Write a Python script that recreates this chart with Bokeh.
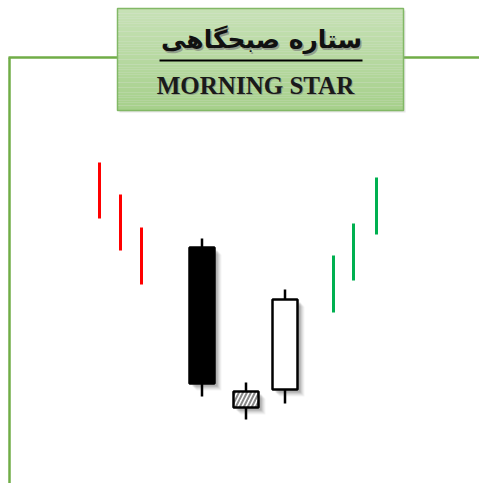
from bokeh.plotting import figure
from bokeh.models import Range1d, ColumnDataSource
from bokeh.embed import file_html
from bokeh.resources import INLINE
from bokeh.core.properties import value

# --- data (price units; x = time position) ---
down_x = [91, 112, 133]
down_high = [321, 289, 256]
down_low = [265, 233, 199]

up_x = [325, 345, 368]
up_high = [228, 260, 306]
up_low = [171, 203, 249]

candle_x = [193.5, 237.5, 276.5]
candle_open = [236, 92, 94]
candle_close = [100, 76, 184]
candle_high = [245, 101, 194]
candle_low = [87, 64, 80]
candle_kind = ["bear", "star", "bull"]

title_fa = "ستاره صبحگاهی"
title_en = "MORNING STAR"

W, H = 479, 483
p = figure(width=W, height=H, output_backend="svg", toolbar_location=None,
           x_range=Range1d(-8, W - 8), y_range=Range1d(0, H), min_border=0)
p.axis.visible = False
p.grid.visible = False
p.outline_line_color = None
p.background_fill_color = "white"
p.border_fill_color = "white"

green = "#70AD47"
# frame lines
p.segment(x0=[1], y0=[0], x1=[1], y1=[426], line_color=green, line_width=2.5)
p.segment(x0=[0, 395], y0=[426, 426], x1=[110, 471], y1=[426, 426], line_color=green, line_width=2.5)

# title box with gradient
bl, br, bt, bb = 109, 395, 475, 373
n = 40
c0 = (199, 225, 182)
c1 = (166, 208, 139)
tops, bots, cols = [], [], []
for i in range(n):
    t = i / (n - 1)
    col = tuple(int(round(c0[k] + (c1[k] - c0[k]) * t)) for k in range(3))
    tops.append(bt - (bt - bb) * i / n)
    bots.append(bt - (bt - bb) * (i + 1) / n)
    cols.append("#%02x%02x%02x" % col)
p.quad(left=[bl + 2], right=[br + 2], top=[bt - 2], bottom=[bb - 2], fill_color="#999999", fill_alpha=0.25, line_color=None)
p.quad(left=[bl] * n, right=[br] * n, top=tops, bottom=bots, fill_color=cols, line_color=None)
p.quad(left=[bl], right=[br], top=[bt], bottom=[bb], fill_color=None, line_color="#82b866", line_width=1.5)

# Persian title with shadow
p.text(x=[254.5], y=[442.5], text=[title_fa], text_font=value("DejaVu Sans"), text_font_size="25px",
       text_font_style="bold", text_align="center", text_baseline="middle", text_color="#777777", text_alpha=0.6)
p.text(x=[253], y=[444], text=[title_fa], text_font=value("DejaVu Sans"), text_font_size="25px",
       text_font_style="bold", text_align="center", text_baseline="middle", text_color="#111111")
p.segment(x0=[151], y0=[423], x1=[354], y1=[423], line_color="black", line_width=2)

# English title
p.text(x=[248], y=[397], text=[title_en], text_font=value("Liberation Serif"), text_font_size="25px",
       text_font_style="bold", text_align="center", text_baseline="middle", text_color="#777777", text_alpha=0.5)
p.text(x=[247], y=[398], text=[title_en], text_font=value("Liberation Serif"), text_font_size="25px",
       text_font_style="bold", text_align="center", text_baseline="middle", text_color="#1a1a1a")

# trend lines
p.segment(x0=down_x, y0=down_low, x1=down_x, y1=down_high, line_color="#FF0000", line_width=3)
p.segment(x0=up_x, y0=up_low, x1=up_x, y1=up_high, line_color="#00B050", line_width=3)

# candles
bw = 25
tops_c = [max(o, c) for o, c in zip(candle_open, candle_close)]
bots_c = [min(o, c) for o, c in zip(candle_open, candle_close)]
src = ColumnDataSource(dict(x=candle_x, top=tops_c, bot=bots_c, high=candle_high, low=candle_low, kind=candle_kind))

for off, a in [(7, 0.06), (6, 0.08), (5, 0.1), (4, 0.14), (3, 0.18)]:
    p.quad(left=[x - bw / 2 + off for x in candle_x], right=[x + bw / 2 + off for x in candle_x],
           top=[t - off for t in tops_c], bottom=[b - off for b in bots_c],
           fill_color="#555555", fill_alpha=a, line_color=None)

p.segment(x0="x", y0="low", x1="x", y1="high", source=src, line_color="black", line_width=2.5)

fills = {"bear": "black", "star": "white", "bull": "white"}
for i, k in enumerate(candle_kind):
    x = candle_x[i]
    kw = {}
    if k == "star":
        kw = dict(hatch_pattern="/", hatch_color="#888888", hatch_scale=8, hatch_weight=2)
    p.quad(left=[x - bw / 2], right=[x + bw / 2], top=[tops_c[i]], bottom=[bots_c[i]],
           fill_color=fills[k], line_color="black", line_width=2.5, **kw)

open("out.html", "w").write(file_html(p, INLINE))
